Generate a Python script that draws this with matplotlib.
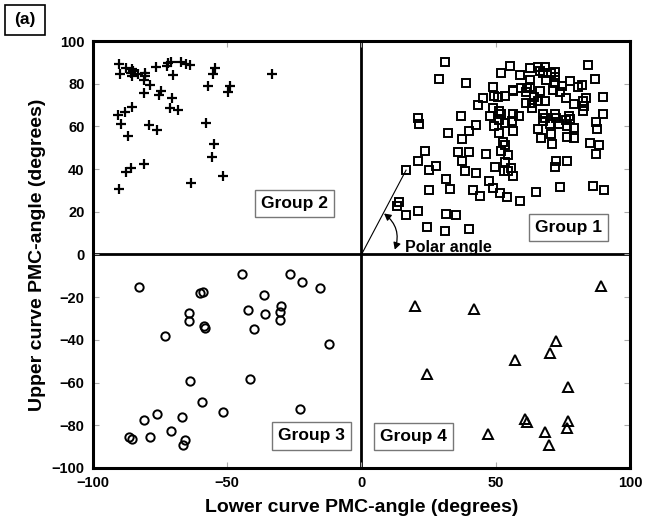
import matplotlib
matplotlib.use("Agg")
import matplotlib.pyplot as plt
from matplotlib.patches import FancyArrowPatch, Rectangle

plt.rcParams['font.family'] = ['Liberation Sans', 'DejaVu Sans']
plt.rcParams['font.weight'] = 'bold'

# Group 1 (squares, quadrant I)
g1_x = [31.2, 28.7, 39.1, 48.9, 45.2, 43.3, 49.5, 48.9, 21.0, 21.6, 36.9, 48.0, 42.7, 40.2,
        32.4, 37.5, 49.5, 23.8, 36.1, 40.0, 46.4, 52.0, 55.4, 53.3, 56.3, 51.1, 52.0, 51.4,
        53.3, 51.4, 56.2, 56.3, 52.6, 53.6, 52.0, 54.5, 21.2, 37.4, 49.9, 53.3, 53.0, 54.5,
        55.7, 27.8, 25.3, 38.6, 42.5, 16.6, 31.5, 33.1, 25.3, 47.4, 48.9, 41.4, 44.3, 51.7,
        54.3, 21.2, 31.5, 35.3, 16.6, 13.8, 13.3, 24.5, 31.2, 40.2, 59.1, 62.6, 65.7, 68.5,
        66.3, 67.5, 70.4, 71.9, 72.2, 62.8, 68.8, 71.9, 77.5, 74.7, 80.5, 82.2, 84.5, 87.1,
        56.6, 59.5, 61.6, 62.6, 66.5, 71.2, 74.1, 61.1, 50.8, 64.4, 61.3, 63.6, 65.7, 68.5,
        63.6, 76.0, 79.3, 82.4, 83.7, 89.9, 82.8, 82.4, 89.9, 56.3, 58.8, 67.5, 68.5, 71.9,
        72.5, 77.2, 77.8, 76.2, 67.5, 70.3, 73.4, 76.5, 79.1, 65.7, 87.4, 87.6, 70.6, 66.9,
        76.5, 79.3, 70.9, 85.2, 88.6, 87.4, 56.3, 72.5, 76.5, 72.1, 74.1, 65.1, 59.2, 86.4,
        90.2]
g1_y = [90.3, 82.4, 80.1, 78.4, 73.4, 69.9, 74.1, 68.7, 64.0, 60.9, 64.8, 65.1, 60.6, 57.8,
        57.0, 54.3, 60.1, 48.7, 48.1, 48.1, 47.2, 85.1, 88.5, 74.1, 76.8, 67.4, 65.6, 63.2,
        61.7, 57.0, 62.4, 57.8, 52.6, 51.5, 48.4, 46.8, 44.0, 43.7, 41.1, 43.4, 39.3, 39.3,
        40.3, 41.4, 39.5, 39.3, 38.4, 39.5, 35.5, 30.9, 30.0, 34.3, 31.2, 30.0, 27.6, 28.9,
        26.8, 20.3, 19.1, 18.7, 18.3, 24.5, 22.6, 12.8, 10.8, 12.0, 84.0, 87.4, 87.9, 87.9,
        85.9, 85.1, 84.8, 85.6, 83.2, 81.6, 81.5, 80.4, 81.2, 78.8, 78.6, 79.3, 88.7, 82.4,
        77.0, 77.8, 77.8, 78.4, 76.8, 77.0, 76.2, 76.2, 73.9, 73.9, 71.1, 71.1, 71.8, 72.1,
        68.7, 73.1, 70.6, 71.8, 73.4, 73.7, 69.5, 67.4, 66.0, 66.0, 64.8, 65.6, 64.0, 65.6,
        64.0, 65.1, 63.6, 63.2, 62.4, 60.9, 60.9, 60.1, 59.3, 58.9, 62.0, 58.9, 56.5, 54.7,
        55.1, 54.7, 51.9, 52.3, 51.2, 47.3, 36.7, 44.0, 44.0, 40.9, 31.5, 29.2, 25.0, 32.3,
        30.0]

# Group 2 (plus, quadrant II)
g2_x = [-90.5, -87.6, -85.4, -85.1, -85.8, -89.8, -85.4, -83.3, -80.8, -80.8, -81.1, -78.7,
        -81.1, -76.7, -71.9, -70.9, -72.5, -67.1, -65.3, -63.7, -70.2, -54.7, -55.4, -57.2,
        -48.9, -49.8, -74.6, -75.5, -70.5, -71.5, -68.4, -85.5, -87.9, -90.7, -89.5, -79.3,
        -76.2, -86.8, -57.8, -55.1, -55.7, -85.8, -87.6, -81.1, -51.6, -63.4, -90.5, -33.4]
g2_y = [89.3, 87.4, 87.0, 85.9, 85.1, 84.6, 83.5, 84.6, 85.1, 83.5, 81.5, 79.6,
        75.7, 87.9, 89.8, 90.2, 88.2, 90.2, 89.3, 88.7, 84.0, 87.4, 84.6, 79.1,
        79.1, 76.0, 76.8, 74.6, 73.4, 68.7, 67.6, 69.2, 66.7, 65.3, 60.9, 60.6,
        58.2, 55.4, 61.7, 51.9, 45.6, 40.6, 38.6, 42.6, 36.7, 33.3, 30.8, 84.6]

# Group 3 (circles, quadrant III)
g3_x = [-82.7, -44.4, -60.3, -59.1, -36.4, -35.8, -42.1, -40.1, -64.4, -64.1, -58.5, -58.1,
        -73.0, -63.7, -41.7, -59.5, -51.7, -76.1, -81.1, -66.8, -70.9, -86.7, -85.4, -78.6,
        -65.9, -66.6, -26.8, -22.2, -15.4, -29.9, -30.5, -30.3, -12.2, -22.8]
g3_y = [-15.1, -9.0, -17.9, -17.5, -19.2, -27.8, -25.8, -35.1, -27.3, -31.2, -33.6, -34.3,
        -38.1, -59.3, -58.4, -69.2, -73.9, -74.5, -77.6, -76.2, -82.8, -85.6, -86.2, -85.7,
        -87.1, -89.0, -9.0, -13.0, -15.6, -24.2, -26.8, -30.8, -41.8, -72.6]

# Group 4 (triangles, quadrant IV)
g4_x = [89.3, 20.0, 41.8, 72.3, 70.3, 57.0, 24.5, 76.8, 61.0, 61.7, 76.8, 76.5, 68.5, 47.3, 70.0]
g4_y = [-14.8, -23.9, -25.3, -40.6, -46.0, -49.5, -55.9, -62.1, -77.0, -78.5, -78.1, -81.2,
        -83.1, -84.3, -89.0]

group_labels = ["Group 1", "Group 2", "Group 3", "Group 4"]
label_pos = [(77, 12.8), (-25, 24), (-18.7, -85), (19.3, -85.4)]

x_ticks = [-100, -50, 0, 50, 100]
y_ticks = [-100, -80, -60, -40, -20, 0, 20, 40, 60, 80, 100]

fig = plt.figure(figsize=(6.49, 5.25), dpi=100)
ax = fig.add_axes([0.1433, 0.1086, 0.8274, 0.8133])

ax.axhline(0, color='black', lw=2.0, zorder=1)
ax.axvline(0, color='black', lw=2.0, zorder=1)

ax.plot(g1_x, g1_y, ls='none', marker='s', ms=5.6, mfc='none', mec='black', mew=1.4, zorder=3)
ax.plot(g2_x, g2_y, ls='none', marker='+', ms=7, mec='black', mew=1.6, zorder=3)
ax.plot(g3_x, g3_y, ls='none', marker='o', ms=6.0, mfc='none', mec='black', mew=1.4, zorder=3)
ax.plot(g4_x, g4_y, ls='none', marker='^', ms=6.8, mfc='none', mec='black', mew=1.4, zorder=3)

# polar angle line and double-headed curved arrow
ax.plot([0, 16.6], [0, 39.5], color='black', lw=0.8, zorder=2)
arr = FancyArrowPatch((8.4, 19.2), (12.4, 2.3), connectionstyle='arc3,rad=-0.35',
                      arrowstyle='<|-|>,head_length=4,head_width=2.2', color='black', lw=0.9,
                      shrinkA=0, shrinkB=0, zorder=4)
ax.add_patch(arr)
ax.text(16.2, 3.4, "Polar angle", fontsize=11.5, fontweight='bold', ha='left', va='center',
        zorder=5)

for lab, (lx, ly) in zip(group_labels, label_pos):
    ax.text(lx, ly, lab, fontsize=12.5, fontweight='bold', ha='center', va='center', zorder=6,
            bbox=dict(boxstyle='square,pad=0.35', fc='white', ec='#777777', lw=1.0))

ax.set_xlim(-100, 100)
ax.set_ylim(-100, 100)
ax.set_xticks(x_ticks)
ax.set_yticks(y_ticks)
ax.tick_params(direction='in', length=4, width=0.8, color='#aaaaaa', top=True, right=True,
               labelsize=10.5, pad=6)
for lab in ax.get_xticklabels() + ax.get_yticklabels():
    lab.set_fontweight('bold')
for s in ax.spines.values():
    s.set_linewidth(2.2)
    s.set_color('black')

ax.set_xlabel("Lower curve PMC-angle (degrees)", fontsize=14, fontweight='bold', labelpad=6)
ax.set_ylabel("Upper curve PMC-angle (degrees)", fontsize=14, fontweight='bold', labelpad=4)

fig.text(0.039, 0.962, "(a)", fontsize=12.5, fontweight='bold', ha='center', va='center')
fig.patches.append(Rectangle((0.008, 0.933), 0.062, 0.058, transform=fig.transFigure,
                             fill=False, ec='black', lw=1.2))

fig.savefig("out.png", dpi=100)
